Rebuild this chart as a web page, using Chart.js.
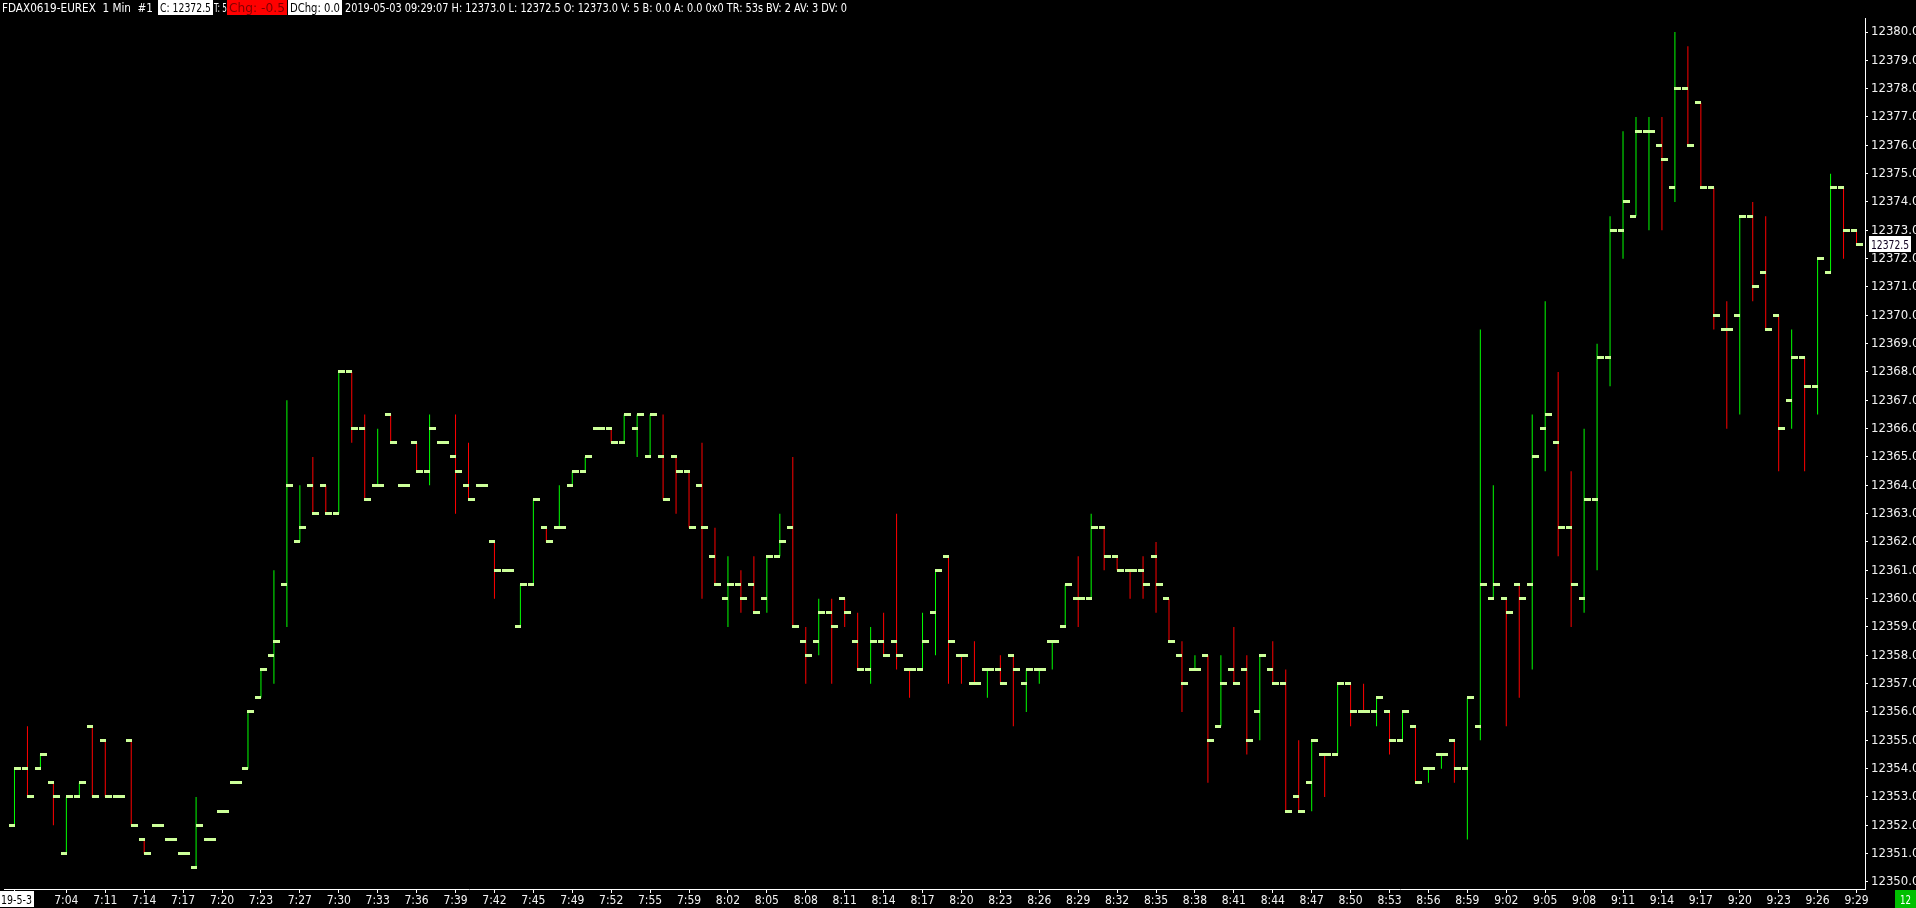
<!DOCTYPE html>
<html>
<head>
<meta charset="utf-8">
<title>FDAX0619-EUREX 1 Min</title>
<script src="https://cdn.jsdelivr.net/npm/chart.js@4.4.1/dist/chart.umd.min.js"></script>
<style>
html, body { margin: 0; padding: 0; background: #000; overflow: hidden; }
#wrap { width: 1916px; height: 908px; }
</style>
</head>
<body>
<div id="wrap"><canvas id="chart" width="1916" height="908"></canvas></div>
<script>
// FDAX0619-EUREX, 1 min bars, 2019-05-03 07:00 - 09:29 (one bar per traded minute)
const opens = [
  12352, 12354, 12354, 12353.5, 12351, 12353, 12355.5, 12355, 12353, 12355,
  12351.5, 12352, 12351.5, 12351, 12350.5, 12351.5, 12352.5, 12353.5, 12354, 12356.5,
  12358, 12360.5, 12362, 12364, 12364, 12363, 12368, 12366, 12364, 12366.5,
  12364, 12365.5, 12364.5, 12365.5, 12365, 12364, 12364, 12362, 12361, 12359,
  12360.5, 12362.5, 12362.5, 12364, 12364.5, 12366, 12366, 12365.5, 12366, 12365,
  12365, 12365, 12364.5, 12364, 12361.5, 12360, 12360.5, 12360.5, 12360, 12361.5,
  12362.5, 12358.5, 12358.5, 12359.5, 12360, 12358.5, 12357.5, 12358.5, 12358.5, 12357.5,
  12357.5, 12359.5, 12361.5, 12358, 12357, 12357.5, 12357.5, 12358, 12357, 12357.5,
  12358.5, 12359, 12360, 12360, 12362.5, 12361.5, 12361, 12361, 12361.5, 12360,
  12358, 12357.5, 12358, 12355.5, 12357.5, 12357.5, 12356, 12357.5, 12357, 12353,
  12353.5, 12354.5, 12354.5, 12357, 12356, 12356, 12356, 12355, 12355.5, 12354,
  12354.5, 12355, 12354, 12355.5, 12360, 12360, 12360.5, 12360.5, 12366, 12365.5,
  12362.5, 12360, 12363.5, 12368.5, 12373, 12373.5, 12376.5, 12376, 12374.5, 12378,
  12377.5, 12374.5, 12369.5, 12370, 12373.5, 12371.5, 12370, 12367, 12368.5, 12367.5,
  12371.5, 12374.5, 12373
];
const highs = [
  12354, 12355.5, 12354.5, 12353.5, 12353, 12353.5, 12355.5, 12355, 12353, 12355,
  12351.5, 12352, 12351.5, 12351, 12353, 12351.5, 12352.5, 12353.5, 12356, 12357.5,
  12361, 12367, 12364, 12365, 12364, 12368, 12368, 12366.5, 12366, 12366.5,
  12364, 12365.5, 12366.5, 12365.5, 12366.5, 12365.5, 12364, 12362, 12361, 12360.5,
  12363.5, 12362.5, 12364, 12364.5, 12365, 12366, 12366, 12366.5, 12366.5, 12366.5,
  12366.5, 12365, 12364.5, 12365.5, 12362.5, 12361.5, 12361, 12361.5, 12361.5, 12363,
  12365, 12359, 12360, 12360, 12360, 12359.5, 12359, 12359.5, 12363, 12357.5,
  12359.5, 12361, 12361.5, 12358, 12358.5, 12357.5, 12358, 12358, 12357.5, 12357.5,
  12358.5, 12360.5, 12361.5, 12363, 12362.5, 12361.5, 12361, 12361.5, 12362, 12360,
  12358.5, 12358, 12358, 12358, 12359, 12358, 12358, 12358.5, 12357.5, 12355,
  12355, 12354.5, 12357, 12357, 12357, 12356.5, 12356, 12356, 12355.5, 12354,
  12354.5, 12355, 12356.5, 12369.5, 12364, 12360, 12360.5, 12366.5, 12370.5, 12368,
  12364.5, 12366, 12369, 12373.5, 12376.5, 12377, 12377, 12377, 12380, 12379.5,
  12377.5, 12374.5, 12370.5, 12373.5, 12374, 12373.5, 12370, 12369.5, 12368.5, 12372,
  12375, 12374.5, 12373
];
const lows = [
  12352, 12353, 12354, 12352, 12351, 12353, 12353, 12353, 12353, 12352,
  12351, 12352, 12351.5, 12351, 12350.5, 12351.5, 12352.5, 12353.5, 12354, 12356.5,
  12357, 12359, 12362, 12363, 12363, 12363, 12365.5, 12363.5, 12364, 12365.5,
  12364, 12364.5, 12364, 12365.5, 12363, 12363.5, 12364, 12360, 12361, 12359,
  12360.5, 12362, 12362.5, 12364, 12364.5, 12366, 12365.5, 12365.5, 12365, 12365,
  12363.5, 12363, 12362.5, 12360, 12360.5, 12359, 12359.5, 12359.5, 12359.5, 12361.5,
  12359, 12357, 12358, 12357, 12359, 12357.5, 12357, 12358, 12357.5, 12356.5,
  12357.5, 12358, 12357, 12357, 12357, 12356.5, 12357, 12355.5, 12356, 12357,
  12357.5, 12359, 12359, 12360, 12361, 12361, 12360, 12360, 12359.5, 12358.5,
  12356, 12357.5, 12353.5, 12355.5, 12357, 12354.5, 12355, 12357, 12352.5, 12352.5,
  12352.5, 12353, 12354.5, 12355.5, 12356, 12355.5, 12354.5, 12355, 12353.5, 12353.5,
  12354, 12353.5, 12351.5, 12355, 12360, 12355.5, 12356.5, 12357.5, 12364.5, 12361.5,
  12359, 12359.5, 12361, 12367.5, 12372, 12373.5, 12373, 12373, 12374, 12376,
  12374.5, 12369.5, 12366, 12366.5, 12370.5, 12369.5, 12364.5, 12366, 12364.5, 12366.5,
  12371.5, 12372, 12372.5
];
const closes = [
  12354, 12353, 12354.5, 12353, 12353, 12353.5, 12353, 12353, 12353, 12352,
  12351, 12352, 12351.5, 12351, 12352, 12351.5, 12352.5, 12353.5, 12356, 12357.5,
  12358.5, 12364, 12362.5, 12363, 12363, 12368, 12366, 12363.5, 12364, 12365.5,
  12364, 12364.5, 12366, 12365.5, 12364.5, 12363.5, 12364, 12361, 12361, 12360.5,
  12363.5, 12362, 12362.5, 12364.5, 12365, 12366, 12365.5, 12366.5, 12366.5, 12366.5,
  12363.5, 12364.5, 12362.5, 12362.5, 12360.5, 12360.5, 12360, 12359.5, 12361.5, 12362,
  12359, 12358, 12359.5, 12359, 12359.5, 12357.5, 12358.5, 12358, 12358, 12357.5,
  12358.5, 12361, 12358.5, 12358, 12357, 12357.5, 12357, 12357.5, 12357.5, 12357.5,
  12358.5, 12360.5, 12360, 12362.5, 12361.5, 12361, 12361, 12360.5, 12360.5, 12358.5,
  12357, 12357.5, 12355, 12357, 12357, 12355, 12358, 12357, 12352.5, 12352.5,
  12355, 12354.5, 12357, 12356, 12356, 12356.5, 12355, 12356, 12353.5, 12354,
  12354.5, 12354, 12356.5, 12360.5, 12360.5, 12359.5, 12360, 12365, 12366.5, 12362.5,
  12360.5, 12363.5, 12368.5, 12373, 12374, 12376.5, 12376.5, 12375.5, 12378, 12376,
  12374.5, 12370, 12369.5, 12373.5, 12371, 12369.5, 12366, 12368.5, 12367.5, 12372,
  12374.5, 12373, 12372.5
];

// time axis labels: bar index and text
const dateLabel = '19-5-3';
const labelIdx = [
  4, 7, 10, 13, 16, 19, 22, 25, 28, 31, 34, 37, 40, 43, 46, 49, 52, 55, 58, 61,
  64, 67, 70, 73, 76, 79, 82, 85, 88, 91, 94, 97, 100, 103, 106, 109, 112, 115, 118, 121,
  124, 127, 130, 133, 136, 139, 142
];
const labelText = [
  '7:04', '7:11', '7:14', '7:17', '7:20', '7:23', '7:27', '7:30', '7:33', '7:36',
  '7:39', '7:42', '7:45', '7:49', '7:52', '7:55', '7:59', '8:02', '8:05', '8:08',
  '8:11', '8:14', '8:17', '8:20', '8:23', '8:26', '8:29', '8:32', '8:35', '8:38',
  '8:41', '8:44', '8:47', '8:50', '8:53', '8:56', '8:59', '9:02', '9:05', '9:08',
  '9:11', '9:14', '9:17', '9:20', '9:23', '9:26', '9:29'
];
const priceTicks = [];
for (let p = 12350; p <= 12380; p++) priceTicks.push(p);

const headerTexts = [
  'FDAX0619-EUREX  1 Min  #1',
  'C: 12372.5',
  'T: 5',
  'Chg: -0.5',
  'DChg: 0.0',
  '2019-05-03 09:29:07 H: 12373.0 L: 12372.5 O: 12373.0 V: 5 B: 0.0 A: 0.0 0x0 TR: 53s BV: 2 AV: 3 DV: 0'
];
const timerText = '12';

const UP = '#00ff00';
const DOWN = '#ff0000';
const TICK = '#ccff99';
const FONT = "'Liberation Sans Narrow', 'DejaVu Sans Condensed', 'Liberation Sans', sans-serif";

// line colour: close vs open, then close vs previous close, then previous colour
const lineColors = [];
closes.forEach((c, i) => {
  const o = opens[i];
  let col;
  if (c > o) col = UP;
  else if (c < o) col = DOWN;
  else if (i > 0 && c > closes[i - 1]) col = UP;
  else if (i > 0 && c < closes[i - 1]) col = DOWN;
  else col = i > 0 ? lineColors[i - 1] : UP;
  lineColors.push(col);
});

function tickImage(side) {
  const c = document.createElement('canvas');
  c.width = 13; c.height = 3;
  const g = c.getContext('2d');
  g.fillStyle = TICK;
  if (side === 'open') g.fillRect(1, 0, 6, 3);
  else g.fillRect(6, 0, 7, 3);
  return c;
}

function fitText(ctx, text, x, w, base, color, size) {
  ctx.save();
  ctx.font = size + 'px ' + FONT;
  const m = ctx.measureText(text).width;
  ctx.translate(x, base);
  ctx.scale(w / m, 1);
  ctx.fillStyle = color;
  ctx.textBaseline = 'alphabetic';
  ctx.fillText(text, 0, 0);
  ctx.restore();
}

const overlay = {
  id: 'overlay',
  beforeDatasetsDraw(chart) { chart.ctx.imageSmoothingEnabled = false; },
  afterDatasetsDraw(chart) { chart.ctx.imageSmoothingEnabled = true; },
  afterDraw(chart) {
    const ctx = chart.ctx;
    // header line
    ctx.fillStyle = '#ffffff';
    ctx.fillRect(158, 0, 55, 15);
    ctx.fillRect(288, 0, 54, 15);
    ctx.fillStyle = '#ff0000';
    ctx.fillRect(227, 0, 60, 15);
    fitText(ctx, headerTexts[0], 2, 151, 12, '#ffffff', 13);
    fitText(ctx, headerTexts[1], 160, 51, 12, '#000000', 13);
    fitText(ctx, headerTexts[2], 214, 13, 12, '#ffffff', 13);
    fitText(ctx, headerTexts[3], 229, 56, 12, '#800000', 13);
    fitText(ctx, headerTexts[4], 290, 50, 12, '#000000', 13);
    fitText(ctx, headerTexts[5], 345, 502, 12, '#ffffff', 13);

    // last price marker on the price axis
    const y = chart.scales.y.getPixelForValue(closes[closes.length - 1]);
    ctx.fillStyle = '#ffffff';
    ctx.fillRect(1869, Math.round(y) - 8, 42, 16);
    fitText(ctx, closes[closes.length - 1].toFixed(1), 1871, 38, Math.round(y) + 5, '#100020', 13);

    // date label at the first bar
    ctx.fillStyle = '#ffffff';
    ctx.fillRect(0, 891, 34, 16);
    fitText(ctx, dateLabel, 1, 31, 904, '#000000', 13);

    // bar timer box
    ctx.fillStyle = '#00c000';
    ctx.fillRect(1895, 890, 21, 18);
    fitText(ctx, timerText, 1900, 11, 904, '#ffffff', 13);
  }
};

const barData = lows.map((l, i) => ({ x: i, y: [l, highs[i]] }));
const openData = opens.map((v, i) => ({ x: i, y: v }));
const closeData = closes.map((v, i) => ({ x: i, y: v }));

const yMax = 12380 + 14 / 28.3333;
const yMin = yMax - 871 / 28.3333;

new Chart(document.getElementById('chart'), {
  type: 'bar',
  data: {
    datasets: [
      {
        type: 'line', data: openData, showLine: false, order: 1,
        pointStyle: tickImage('open'), pointRadius: 3, pointHoverRadius: 3
      },
      {
        type: 'line', data: closeData, showLine: false, order: 1,
        pointStyle: tickImage('close'), pointRadius: 3, pointHoverRadius: 3
      },
      {
        type: 'bar', data: barData, order: 2,
        backgroundColor: lineColors, borderWidth: 0, barThickness: 1,
        inflateAmount: 0, borderSkipped: false
      }
    ]
  },
  options: {
    responsive: false,
    animation: false,
    events: [],
    devicePixelRatio: 1,
    layout: { padding: { top: 18, left: 0, right: 0, bottom: 0 } },
    plugins: { legend: { display: false }, tooltip: { enabled: false } },
    scales: {
      x: {
        type: 'linear',
        offset: false,
        min: -10.5 / 13,
        max: (1865 - 10.5) / 13,
        afterBuildTicks: s => { s.ticks = [0].concat(labelIdx).map(v => ({ value: v })); },
        afterFit: s => { s.height = 19; s.paddingLeft = 0; s.paddingRight = 0; },
        ticks: {
          autoSkip: false, maxRotation: 0, minRotation: 0, padding: 1,
          color: '#f2f2f2', font: { family: FONT, size: 12 },
          callback: v => { const k = labelIdx.indexOf(v); return k < 0 ? '' : labelText[k]; }
        },
        grid: { display: true, offset: false, drawOnChartArea: false, drawTicks: true, tickLength: 4, color: '#ffffff' },
        border: { display: true, color: '#ffffff', width: 1 }
      },
      y: {
        position: 'right',
        min: yMin,
        max: yMax,
        afterBuildTicks: s => { s.ticks = priceTicks.map(v => ({ value: v })); },
        afterFit: s => { s.width = 51; s.paddingTop = 0; s.paddingBottom = 0; },
        ticks: {
          autoSkip: false, padding: 3,
          color: '#f2f2f2', font: { family: FONT, size: 13 },
          callback: v => v.toFixed(1)
        },
        grid: { display: true, drawOnChartArea: false, drawTicks: true, tickLength: 3, color: '#ffffff' },
        border: { display: true, color: '#ffffff', width: 1 }
      }
    }
  },
  plugins: [overlay]
});
</script>
</body>
</html>
